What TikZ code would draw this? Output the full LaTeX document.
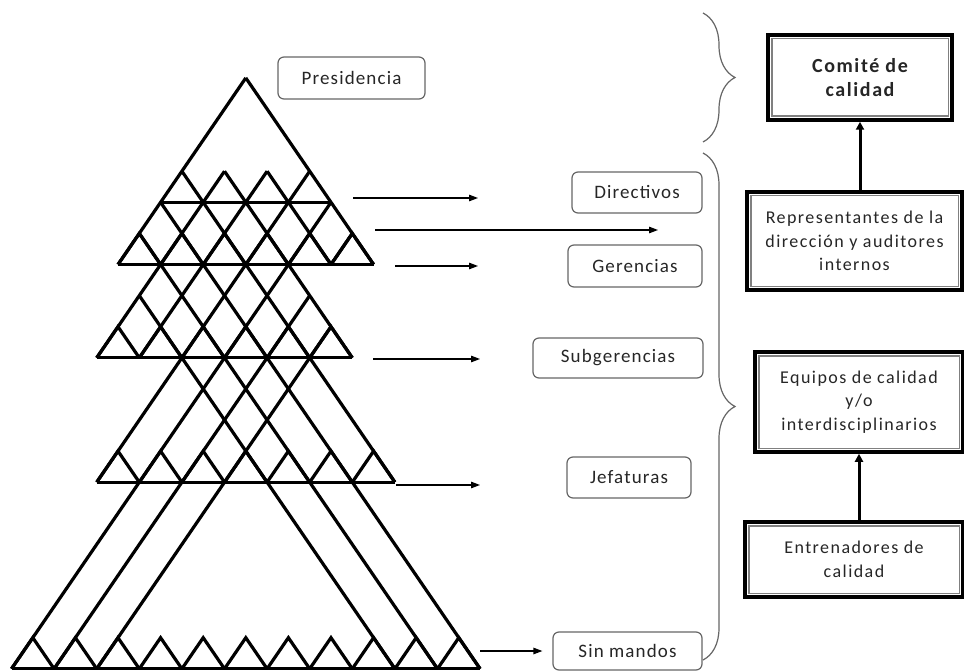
\documentclass[tikz,border=0pt]{standalone}
\usepackage{fontspec}
\setmainfont{Carlito}
\newfontfamily\tagfont[LetterSpace=6]{Carlito}
\newfontfamily\cardfont[LetterSpace=8]{Carlito}
\usetikzlibrary{arrows.meta,decorations.pathreplacing}

\tikzset{
  pyr/.style={line width=3.2pt, draw=black},
  tag/.style={draw=black!60, line width=1.2pt, rounded corners=6pt, inner sep=0pt,
    text=black!85, font=\tagfont\fontsize{19}{22}\selectfont},
  card/.style={draw=black, line width=3.5pt, inner sep=0pt, align=center, text=black!85,
    font=\cardfont\fontsize{18}{23.5}\selectfont,
    path picture={\draw[black!50, line width=1.4pt]
      ([shift={(3.8pt,-3.8pt)}]path picture bounding box.north west) rectangle
      ([shift={(-3.8pt,3.8pt)}]path picture bounding box.south east);}},
  pointer/.style={line width=1.2pt, -{Triangle[length=9pt,width=6.5pt]}},
  uplink/.style={line width=3pt, -{Triangle[length=8pt,width=8pt]}},
  bracket/.style={decorate, decoration={brace, amplitude=32pt}, draw=black!60, line width=1.2pt},
}

\begin{document}
\begin{tikzpicture}[x=1pt,y=-1pt]
\useasboundingbox (0,0) rectangle (964,671);
\fill[white] (0,0) rectangle (964,671);

% ---- pyramid, drawn on a triangular lattice (i across, j up) ----
\begin{scope}[shift={(118,264.5)}, x={(21.3pt,0pt)}, y={(0pt,31.1pt)}]
  % horizontal floors
  \draw[pyr] (-5,-13) -- (17,-13);
  \draw[pyr] (-1,-7) -- (13,-7);
  \draw[pyr] (-1,-3) -- (11,-3);
  \draw[pyr] (0,0) -- (12,0);
  \draw[pyr] (2,2) -- (10,2);
  % rising diagonals
  \foreach \ai/\aj/\bi/\bj in {0/0/6/6, -1/-3/5/3, 1/-3/7/3, -1/-7/9/3,
      -5/-13/10/2, -3/-13/9/-1, 10/0/11/1, -1/-13/10/-2}
    \draw[pyr] (\ai,\aj) -- (\bi,\bj);
  % falling diagonals
  \foreach \ai/\aj/\bi/\bj in {12/0/6/6, 10/0/7/3, 11/-3/5/3, 13/-7/3/3,
      17/-13/2/2, 15/-13/1/1, 13/-13/1/-1}
    \draw[pyr] (\ai,\aj) -- (\bi,\bj);
  % saw teeth along each floor
  \foreach \k in {-4,-2,...,16}
    \draw[pyr] (\k-1,-13) -- (\k,-12) -- (\k+1,-13);
  \foreach \k in {0,2,...,12}
    \draw[pyr] (\k-1,-7) -- (\k,-6) -- (\k+1,-7);
  \foreach \k in {0,2,...,10}
    \draw[pyr] (\k-1,-3) -- (\k,-2) -- (\k+1,-3);
  \foreach \k in {1,3,...,11}
    \draw[pyr] (\k-1,0) -- (\k,1) -- (\k+1,0);
\end{scope}

% ---- level labels ----
\node[tag, minimum width=147pt, minimum height=42pt] (pres) at (351.5,78) {Presidencia};
\node[tag, minimum width=130pt, minimum height=41pt] (dir) at (637,192.5) {Directivos};
\node[tag, minimum width=134pt, minimum height=42pt] (ger) at (635,266) {Gerencias};
\node[tag, minimum width=170pt, minimum height=40pt] (sub) at (618,358) {Subgerencias};
\node[tag, minimum width=124pt, minimum height=41pt] (jef) at (629,477.5) {Jefaturas};
\node[tag, minimum width=149pt, minimum height=38pt] (sin) at (627.5,651) {Sin mandos};

% ---- pointers from the pyramid ----
\coordinate (p1a) at (353,198);  \coordinate (p1b) at (478,198);
\coordinate (p2a) at (375,230);  \coordinate (p2b) at (658,230);
\coordinate (p3a) at (395,266);  \coordinate (p3b) at (478,266);
\coordinate (p4a) at (373,359);  \coordinate (p4b) at (480,359);
\coordinate (p5a) at (396,485);  \coordinate (p5b) at (480,485);
\coordinate (p6a) at (480,651);
\draw[pointer] (p1a) -- (p1b);
\draw[pointer] (p2a) -- (p2b);
\draw[pointer] (p3a) -- (p3b);
\draw[pointer] (p4a) -- (p4b);
\draw[pointer] (p5a) -- (p5b);
\draw[pointer] (p6a) -- ([xshift=-10pt]sin.west);

% ---- braces ----
\coordinate (b1a) at (703,13);  \coordinate (b1b) at (703,142);
\coordinate (b2a) at (703,153); \coordinate (b2b) at (703,660);
\draw[bracket] (b1a) -- (b1b);
\draw[bracket] (b2a) -- (b2b);

% ---- quality structure ----
\node[card, minimum width=184pt, minimum height=85pt, font=\cardfont\bfseries\fontsize{20}{24}\selectfont]
  (com) at (860,77.5) {Comité de\\calidad};
\node[card, minimum width=215pt, minimum height=98pt] (rep) at (854.5,241)
  {Representantes de la\\dirección y auditores\\internos};
\node[card, minimum width=208pt, minimum height=100pt] (equ) at (859,402)
  {Equipos de calidad\\y/o\\interdisciplinarios};
\node[card, minimum width=218pt, minimum height=75pt] (ent) at (854,559.5)
  {Entrenadores de\\calidad};

\draw[uplink] (rep.north -| com.south) -- (com.south);
\draw[uplink] (ent.north -| equ.south) -- (equ.south);
\end{tikzpicture}
\end{document}
